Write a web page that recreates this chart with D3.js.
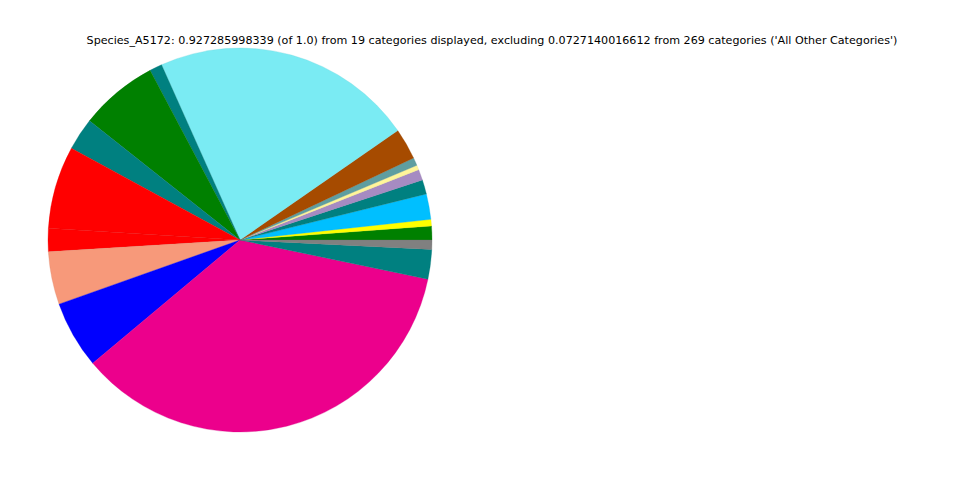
<!DOCTYPE html>
<html>
<head>
<meta charset="utf-8">
<script src="https://cdn.jsdelivr.net/npm/d3@7"></script>
<style>
  html, body { margin: 0; padding: 0; background: #fff; }
  svg { display: block; }
</style>
</head>
<body>
<svg id="chart" width="960" height="480"></svg>
<script>
// Data (fractions of total), in drawing order (counter-clockwise from 3 o'clock)
const categories = [
  "Category 1", "Category 2", "Category 3", "Category 4", "Category 5",
  "Category 6", "Category 7", "Category 8", "Category 9", "Category 10",
  "Category 11", "Category 12", "Category 13", "Category 14", "Category 15",
  "Category 16", "Category 17", "Category 18", "Category 19"
];
const values = [
  0.01082, 0.00515, 0.01983, 0.01108, 0.00850,
  0.00361, 0.00618, 0.02434, 0.20452, 0.00979,
  0.06105, 0.02524, 0.06465, 0.01803, 0.04121,
  0.05255, 0.33048, 0.02318, 0.00721
];
const colors = [
  "#008000", "#FFFF00", "#00BFFF", "#008080", "#A68BC2",
  "#FFF59A", "#5F9EA0", "#A64B00", "#7AEBF3", "#008080",
  "#008000", "#008080", "#FF0000", "#FF0000", "#F7997A",
  "#0000FF", "#EC008C", "#008080", "#808080"
];
const titleText = "Species_A5172: 0.927285998339 (of 1.0) from 19 categories displayed, excluding 0.0727140016612 from 269 categories ('All Other Categories')";

const svg = d3.select("#chart");
const cx = 240, cy = 240, radius = 192;

const data = categories.map((c, i) => ({ name: c, value: values[i], color: colors[i] }));

// Counter-clockwise starting at 3 o'clock (matplotlib style)
const pie = d3.pie()
  .sort(null)
  .value(d => d.value)
  .startAngle(Math.PI / 2)
  .endAngle(Math.PI / 2 - 2 * Math.PI);

const arc = d3.arc().innerRadius(0).outerRadius(radius);

const g = svg.append("g").attr("transform", `translate(${cx},${cy})`);
g.selectAll("path")
  .data(pie(data))
  .join("path")
  .attr("d", arc)
  .attr("fill", d => d.data.color)
  .attr("stroke", d => d3.color(d.data.color).darker(0.3))
  .attr("stroke-width", 0.3);

svg.append("text")
  .attr("x", 492)
  .attr("y", 44)
  .attr("text-anchor", "middle")
  .attr("font-family", "DejaVu Sans")
  .attr("font-size", 11.14)
  .attr("fill", "#000")
  .text(titleText);
</script>
</body>
</html>
